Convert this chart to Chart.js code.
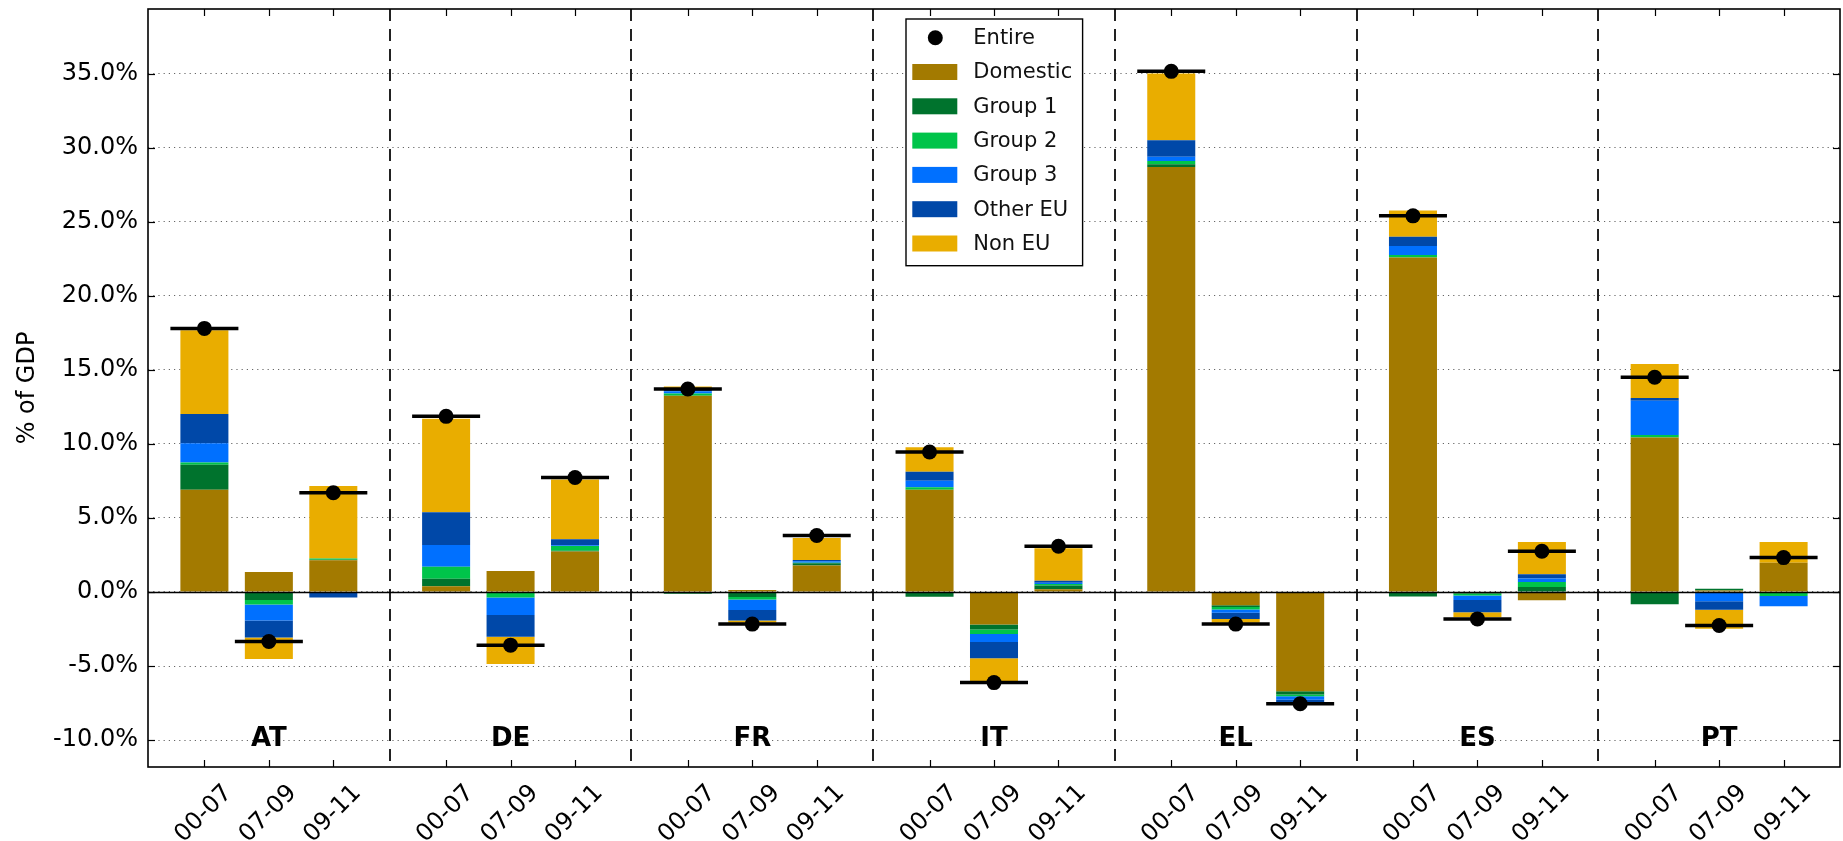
<!DOCTYPE html>
<html>
<head>
<meta charset="utf-8">
<script src="https://cdn.jsdelivr.net/npm/chart.js@4.4.1/dist/chart.umd.min.js"></script>
<style>
html,body{margin:0;padding:0;background:#fff;}
#wrap{width:1843px;height:841px;position:relative;}
</style>
</head>
<body>
<div id="wrap"><canvas id="c"></canvas></div>
<script>
// ---- data ----
const countries = ['AT', 'DE', 'FR', 'IT', 'EL', 'ES', 'PT'];
const periods = ['00-07', '07-09', '09-11'];
//                 AT                   DE                  FR                   IT                   EL                    ES                    PT
const domestic = [6.90, 1.35, 2.15,    0.38, 1.42, 2.73,   13.26, 0.13, 1.78,   6.90, -2.19, 0.18,   28.70, -0.90, -6.71,  22.58, -0.03, -0.56,  10.44, 0.10, 1.98];
const group1   = [1.69, -0.54, 0.03,   0.52, -0.05, 0.05,  -0.12, -0.34, 0.16,  -0.32, -0.34, 0.25,  0.19, -0.12, -0.22,   -0.31, -0.07, 0.34,   -0.83, 0.12, -0.05];
const group2   = [0.16, -0.30, 0.08,   0.81, -0.33, 0.33,  0.15, -0.16, 0.03,   0.18, -0.31, 0.11,   0.22, -0.16, -0.12,   0.18, -0.13, 0.34,    0.16, 0.00, -0.22];
const group3   = [1.30, -1.08, 0.00,   1.47, -1.18, 0.05,  0.15, -0.72, 0.10,   0.43, -0.54, 0.09,   0.28, -0.22, -0.22,   0.60, -0.32, 0.23,    2.32, -0.63, -0.70];
const otherEU  = [1.97, -1.15, -0.38,  2.21, -1.46, 0.40,  0.10, -0.70, 0.09,   0.61, -1.09, 0.13,   1.12, -0.43, -0.18,   0.63, -0.82, 0.29,    0.18, -0.57, 0.00];
const nonEU    = [5.66, -1.46, 4.89,   6.31, -1.85, 4.04,  0.21, -0.16, 1.49,   1.66, -1.58, 2.19,   4.50, -0.25, -0.10,   1.77, -0.34, 2.18,    2.30, -1.28, 1.40];
const entire   = [17.80, -3.34, 6.70,  11.86, -3.59, 7.73, 13.71, -2.17, 3.81,  9.45, -6.12, 3.09,   35.16, -2.17, -7.55,  25.40, -1.82, 2.75,   14.50, -2.26, 2.32];
const yTicks = [-10, -5, 0, 5, 10, 15, 20, 25, 30, 35];
const yRange = [-11.82, 39.37];

// ---- layout helpers (positions on the x value axis) ----
const GROUP_STEP = 3.75;
const positions = [];
countries.forEach((c, g) => periods.forEach((p, i) => positions.push(g * GROUP_STEP + i)));
const separators = countries.slice(1).map((c, g) => g * GROUP_STEP + 2.875);
const xRange = [-0.875, (countries.length - 1) * GROUP_STEP + 2.875];

const series = [
  { label: 'Domestic', values: domestic, color: '#A37A00' },
  { label: 'Group 1',  values: group1,   color: '#00732D' },
  { label: 'Group 2',  values: group2,   color: '#00C44A' },
  { label: 'Group 3',  values: group3,   color: '#0070FF' },
  { label: 'Other EU', values: otherEU,  color: '#0048A8' },
  { label: 'Non EU',   values: nonEU,    color: '#E9AD00' }
];

const FONT = 'DejaVu Sans';
Chart.defaults.font.family = FONT;
Chart.defaults.color = '#000';

const pts = vals => vals.map((v, k) => ({ x: positions[k], y: v }));

const datasets = [
  { type: 'scatter', label: 'Entire', data: pts(entire), pointStyle: 'circle', pointRadius: 7.5,
    pointHoverRadius: 7.5, backgroundColor: '#000', borderWidth: 0, order: 0, stack: 'entireDot' },
  { type: 'scatter', label: 'EntireBar', data: pts(entire), pointStyle: 'line', pointRadius: 34,
    pointHoverRadius: 34, borderColor: '#000', backgroundColor: '#000', borderWidth: 3.5, order: 0, stack: 'entireLine' }
].concat(series.map(s => ({
  type: 'bar', label: s.label, data: pts(s.values), backgroundColor: s.color, borderWidth: 0,
  stack: 'bars', order: 1, barPercentage: 0.745, categoryPercentage: 1
})));

const decor = {
  id: 'decor',
  beforeDatasetsDraw(chart) {
    const { ctx, chartArea: a, scales: { x } } = chart;
    ctx.save();
    ctx.strokeStyle = '#222';
    ctx.lineWidth = 2;
    ctx.setLineDash([12, 8]);
    separators.forEach(s => {
      const px = Math.round(x.getPixelForValue(s));
      ctx.beginPath(); ctx.moveTo(px, a.top); ctx.lineTo(px, a.bottom); ctx.stroke();
    });
    ctx.restore();
  },
  afterDatasetsDraw(chart) {
    const { ctx, chartArea: a, scales: { y } } = chart;
    const py = Math.round(y.getPixelForValue(0)) + 0.5;
    ctx.save();
    ctx.strokeStyle = '#000'; ctx.lineWidth = 1.5;
    ctx.beginPath(); ctx.moveTo(a.left, py); ctx.lineTo(a.right, py); ctx.stroke();
    ctx.restore();
  },
  afterDraw(chart) {
    const { ctx, chartArea: a, scales: { x, y } } = chart;
    ctx.save();
    // inner ticks
    ctx.strokeStyle = '#000'; ctx.lineWidth = 1.2;
    positions.forEach(p => {
      const px = Math.round(x.getPixelForValue(p)) + 0.5;
      ctx.beginPath(); ctx.moveTo(px, a.bottom); ctx.lineTo(px, a.bottom - 7); ctx.stroke();
      ctx.beginPath(); ctx.moveTo(px, a.top); ctx.lineTo(px, a.top + 7); ctx.stroke();
    });
    yTicks.forEach(t => {
      const py = Math.round(y.getPixelForValue(t)) + 0.5;
      ctx.beginPath(); ctx.moveTo(a.left, py); ctx.lineTo(a.left + 7, py); ctx.stroke();
      ctx.beginPath(); ctx.moveTo(a.right, py); ctx.lineTo(a.right - 7, py); ctx.stroke();
    });
    // frame
    ctx.lineWidth = 1.6; ctx.strokeStyle = '#000';
    ctx.strokeRect(a.left, a.top, a.right - a.left, a.bottom - a.top);
    // country labels
    ctx.fillStyle = '#000';
    ctx.font = 'bold 26px "' + FONT + '"';
    ctx.textAlign = 'center'; ctx.textBaseline = 'alphabetic';
    countries.forEach((c, g) => {
      ctx.fillText(c, x.getPixelForValue(g * GROUP_STEP + 1), y.getPixelForValue(-10.4));
    });
    // legend
    const bl = a.left + 758, bt = a.top + 10, bw = 176.6, bh = 246.7;
    ctx.fillStyle = '#fff';
    ctx.fillRect(bl, bt, bw, bh);
    ctx.lineWidth = 1.4; ctx.strokeStyle = '#000';
    ctx.strokeRect(bl, bt, bw, bh);
    const items = [{ label: 'Entire', dot: true }].concat(series.map(s => ({ label: s.label, color: s.color })));
    ctx.font = '21px "' + FONT + '"';
    ctx.textAlign = 'left'; ctx.textBaseline = 'middle';
    items.forEach((it, k) => {
      const cy = bt + 18.7 + k * 34.3;
      if (it.dot) {
        ctx.fillStyle = '#000';
        ctx.beginPath(); ctx.arc(bl + 29.3, cy, 7.5, 0, Math.PI * 2); ctx.fill();
      } else {
        ctx.fillStyle = it.color;
        ctx.fillRect(bl + 6.3, cy - 8, 45, 16);
      }
      ctx.fillStyle = '#111';
      ctx.fillText(it.label, bl + 67.3, cy + 1);
    });
    ctx.restore();
  }
};

new Chart(document.getElementById('c'), {
  type: 'bar',
  data: { datasets },
  plugins: [decor],
  options: {
    responsive: true,
    maintainAspectRatio: false,
    animation: false,
    events: [],
    layout: { autoPadding: false, padding: { top: 9, right: 3, left: 0, bottom: 0 } },
    plugins: { legend: { display: false }, tooltip: { enabled: false } },
    scales: {
      x: {
        type: 'linear',
        offset: false,
        min: xRange[0], max: xRange[1],
        grid: { display: false, offset: false },
        border: { display: false },
        afterBuildTicks: s => { s.ticks = positions.map(v => ({ value: v })); },
        afterFit: s => { s.height = 74; s.paddingLeft = 0; s.paddingRight = 0; },
        ticks: {
          autoSkip: false, minRotation: 45, maxRotation: 45,
          labelOffset: 24, padding: 4,
          font: { size: 24, family: FONT }, color: '#000',
          callback: (v, i) => periods[i % periods.length]
        }
      },
      y: {
        min: yRange[0], max: yRange[1],
        stacked: true,
        afterBuildTicks: s => { s.ticks = yTicks.map(v => ({ value: v })); },
        afterFit: s => { s.width = 148; s.paddingTop = 0; s.paddingBottom = 0; },
        grid: { color: 'rgba(0,0,0,0.6)', lineWidth: 1, drawTicks: false },
        border: { display: false, dash: [1.2, 4] },
        title: { display: true, text: '% of GDP', font: { size: 24, family: FONT }, color: '#000', padding: { top: 13, bottom: 0 } },
        ticks: {
          padding: 10,
          font: { size: 24, family: FONT }, color: '#000',
          callback: v => v.toFixed(1) + '%'
        }
      }
    }
  }
});
</script>
</body>
</html>
